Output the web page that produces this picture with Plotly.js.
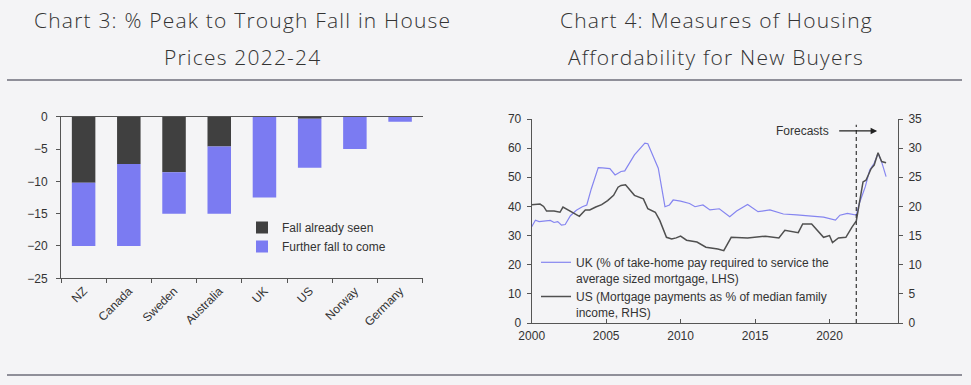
<!DOCTYPE html>
<html>
<head>
<meta charset="utf-8">
<script src="https://cdn.plot.ly/plotly-3.0.1.min.js"></script>
<style>
  html, body { margin: 0; padding: 0; background: #f4f4f6; }
  #chart { width: 971px; height: 385px; }
</style>
</head>
<body>
<div id="chart"></div>
<script>
// ---------- Chart 3 data ----------
const countries = ['NZ', 'Canada', 'Sweden', 'Australia', 'UK', 'US', 'Norway', 'Germany'];
const fallAlreadySeen = [-10.2, -7.3, -8.6, -4.6, 0, -0.3, 0, 0];
const furtherFallToCome = [-9.8, -12.7, -6.4, -10.4, -12.5, -7.6, -5.0, -0.8];
const chart3Ticks = [0, -5, -10, -15, -20, -25];

// ---------- Chart 4 data ----------
const ukYears = [2000.0, 2000.25, 2000.5, 2000.75, 2001.0, 2001.25, 2001.5, 2001.75, 2002.0, 2002.25,
  2002.6, 2003.0, 2003.4, 2003.7, 2004.0, 2004.47, 2004.75, 2005.25, 2005.6, 2006.0,
  2006.25, 2006.9, 2007.6, 2007.8, 2008.5, 2008.95, 2009.25, 2009.5, 2010.0, 2010.6,
  2010.97, 2011.5, 2011.97, 2012.6, 2013.3, 2013.76, 2014.5, 2015.2, 2016.0, 2016.9,
  2017.8, 2018.7, 2019.6, 2020.4, 2020.7, 2021.2, 2021.8, 2022.0, 2022.4, 2022.7,
  2023.0, 2023.26, 2023.5, 2023.8];
const ukValues = [33.0, 35.3, 34.8, 35.0, 35.0, 35.2, 34.5, 34.8, 33.6, 33.8,
  36.8, 38.7, 39.9, 40.5, 46.0, 53.3, 53.2, 53.0, 50.8, 52.0,
  52.2, 57.7, 61.7, 61.5, 53.1, 39.9, 40.5, 42.2, 41.8, 41.0,
  39.9, 40.5, 38.8, 39.2, 36.5, 38.4, 40.7, 38.2, 38.8, 37.4,
  37.1, 36.7, 36.3, 35.3, 37.0, 37.6, 37.0, 41.0, 46.7, 52.5,
  54.8, 58.2, 55.3, 50.2];

const usYears = [2000.0, 2000.56, 2000.8, 2001.0, 2001.5, 2001.9, 2002.1, 2002.4, 2002.7, 2003.2,
  2003.6, 2003.9, 2004.3, 2004.7, 2005.1, 2005.5, 2005.8, 2006.0, 2006.3, 2006.9,
  2007.5, 2007.8, 2008.3, 2008.6, 2009.05, 2009.4, 2009.7, 2010.0, 2010.4, 2011.1,
  2011.7, 2012.5, 2012.9, 2013.4, 2014.5, 2015.7, 2016.6, 2017.0, 2017.9, 2018.2,
  2018.8, 2019.6, 2020.0, 2020.2, 2020.6, 2021.1, 2021.5, 2021.8, 2022.25, 2022.45,
  2022.8, 2023.0, 2023.26, 2023.5, 2023.8];
const usValues = [20.3, 20.4, 20.0, 19.2, 19.2, 19.0, 19.9, 19.5, 19.0, 18.3,
  19.4, 19.4, 19.9, 20.3, 21.0, 21.9, 23.3, 23.6, 23.7, 21.9,
  21.3, 19.6, 19.0, 17.6, 14.7, 14.4, 14.6, 14.9, 14.2, 13.9,
  13.0, 12.7, 12.4, 14.7, 14.6, 14.9, 14.6, 15.9, 15.5, 17.0,
  17.0, 14.7, 15.0, 13.8, 14.6, 14.7, 16.4, 17.5, 24.2, 24.5,
  26.5, 27.1, 29.2, 27.7, 27.5];

const forecastStart = 2021.8;
const forecastArrowFrom = 2020.55;
const forecastArrowTo = 2023.2;
const forecastLevel = 65.9;
const forecastLineTop = 68;

const titles3 = ['Chart 3: % Peak to Trough Fall in House', 'Prices 2022-24'];
const titles4 = ['Chart 4: Measures of Housing', 'Affordability for New Buyers'];

// ---------- styling ----------
const W = 971, H = 385;
const BG = '#f4f4f6';
const AX = '#555555';
const TXT = '#333333';
const FONT = 'Liberation Sans, Arial, sans-serif';
const px = v => v / W;
const py = v => 1 - v / H;
const spaced = t => '<span style="letter-spacing:1.2px">' + t + '</span>';

const traces = [
  {
    type: 'bar', name: 'Fall already seen', x: countries, y: fallAlreadySeen,
    xaxis: 'x', yaxis: 'y', marker: { color: '#404040', line: { width: 0 } },
    legend: 'legend'
  },
  {
    type: 'bar', name: 'Further fall to come', x: countries, y: furtherFallToCome,
    xaxis: 'x', yaxis: 'y', marker: { color: '#7b7bf2', line: { width: 0 } },
    legend: 'legend'
  },
  {
    type: 'scatter', mode: 'lines',
    name: 'UK (% of take-home pay required to service the<br>average sized mortgage, LHS)',
    x: ukYears, y: ukValues, xaxis: 'x3', yaxis: 'y3',
    line: { color: '#8585f0', width: 1.2 }, legend: 'legend2'
  },
  {
    type: 'scatter', mode: 'lines',
    name: 'US (Mortgage payments as % of median family<br>income, RHS)',
    x: usYears, y: usValues, xaxis: 'x3', yaxis: 'y4',
    line: { color: '#505050', width: 1.5 }, legend: 'legend2'
  }
];

const tickFont = { family: FONT, size: 12, color: TXT };
const titleFont = { family: 'Open Sans, sans-serif', size: 21, color: TXT, weight: 300 };

const layout = {
  width: W, height: H,
  margin: { l: 0, r: 0, t: 0, b: 0 },
  paper_bgcolor: BG, plot_bgcolor: BG,
  font: { family: FONT, size: 12, color: TXT },
  barmode: 'relative',
  bargap: 0.48,
  showlegend: true,
  // chart 3 axes
  xaxis: {
    domain: [px(61), px(422.7)], anchor: 'y', type: 'category',
    range: [-0.5, 7.5], showline: true, linecolor: AX, linewidth: 1, mirror: true,
    ticks: 'outside', tickson: 'boundaries', ticklen: 4, tickcolor: AX,
    tickangle: -45, tickfont: tickFont, showgrid: false, zeroline: false
  },
  yaxis: {
    domain: [py(278.3), py(116.7)], anchor: 'x', range: [-25, 0],
    tickvals: chart3Ticks, showline: true, linecolor: AX, linewidth: 1,
    ticks: 'outside', ticklen: 4, tickcolor: AX, tickfont: tickFont,
    showgrid: false, zeroline: false, ticklabelstandoff: 6
  },
  yaxis2: {
    anchor: 'x', overlaying: 'y', side: 'right', range: [-25, 0],
    tickvals: chart3Ticks, showline: true, linecolor: AX, linewidth: 1,
    ticks: 'outside', ticklen: 4, tickcolor: AX, tickfont: tickFont,
    showgrid: false, zeroline: false, ticklabelstandoff: 4
  },
  // chart 4 axes
  xaxis3: {
    domain: [px(531.7), px(898)], anchor: 'y3', range: [2000, 2024.6],
    tick0: 2000, dtick: 5, showline: true, linecolor: AX, linewidth: 1,
    ticks: 'inside', ticklen: 4, tickcolor: AX, tickfont: tickFont,
    showgrid: false, zeroline: false, ticklabelstandoff: 2
  },
  yaxis3: {
    domain: [py(323), py(119)], anchor: 'x3', range: [0, 70], dtick: 10,
    showline: true, linecolor: AX, linewidth: 1,
    ticks: 'outside', ticklen: 4, tickcolor: AX, tickfont: tickFont,
    showgrid: false, zeroline: false, ticklabelstandoff: 3
  },
  yaxis4: {
    anchor: 'x3', overlaying: 'y3', side: 'right', range: [0, 35], dtick: 5,
    showline: true, linecolor: AX, linewidth: 1,
    ticks: 'outside', ticklen: 4, tickcolor: AX, tickfont: tickFont,
    showgrid: false, zeroline: false, ticklabelstandoff: 3
  },
  legend: {
    x: px(242), y: py(213), xanchor: 'left', yanchor: 'top',
    bgcolor: 'rgba(0,0,0,0)', font: { family: FONT, size: 12, color: TXT },
    traceorder: 'normal', tracegroupgap: 0
  },
  legend2: {
    x: px(536), y: py(248), xanchor: 'left', yanchor: 'top',
    bgcolor: 'rgba(0,0,0,0)', font: { family: FONT, size: 12, color: TXT },
    traceorder: 'normal', valign: 'top', tracegroupgap: 0
  },
  shapes: [
    { type: 'line', xref: 'paper', yref: 'paper', x0: px(7), x1: px(962), y0: py(80), y1: py(80),
      line: { color: '#6e6e7a', width: 1.5 } },
    { type: 'line', xref: 'paper', yref: 'paper', x0: px(7), x1: px(962), y0: py(375), y1: py(375),
      line: { color: '#6e6e7a', width: 1.5 } },
    { type: 'line', xref: 'x3', yref: 'y3', x0: forecastStart, x1: forecastStart, y0: 0, y1: forecastLineTop,
      line: { color: '#444444', width: 1.3, dash: '4px,3px' } }
  ],
  annotations: [
    { xref: 'paper', yref: 'paper', x: px(242), y: py(20), text: spaced(titles3[0]), showarrow: false,
      xanchor: 'center', yanchor: 'middle', font: titleFont },
    { xref: 'paper', yref: 'paper', x: px(242), y: py(57), text: spaced(titles3[1]), showarrow: false,
      xanchor: 'center', yanchor: 'middle', font: titleFont },
    { xref: 'paper', yref: 'paper', x: px(716), y: py(20), text: spaced(titles4[0]), showarrow: false,
      xanchor: 'center', yanchor: 'middle', font: titleFont },
    { xref: 'paper', yref: 'paper', x: px(716), y: py(57), text: spaced(titles4[1]), showarrow: false,
      xanchor: 'center', yanchor: 'middle', font: titleFont },
    { xref: 'x3', yref: 'y3', x: forecastArrowFrom - 0.45, y: forecastLevel, text: 'Forecasts', showarrow: false,
      xanchor: 'right', yanchor: 'middle', font: { family: FONT, size: 12, color: TXT } },
    { xref: 'x3', yref: 'y3', x: forecastArrowTo, y: forecastLevel, axref: 'x3', ayref: 'y3',
      ax: forecastArrowFrom, ay: forecastLevel, text: '', showarrow: true,
      arrowhead: 2, arrowsize: 1, arrowwidth: 1.3, arrowcolor: '#222222', standoff: 0, startstandoff: 0 }
  ]
};

Plotly.newPlot('chart', traces, layout, { displayModeBar: false, staticPlot: true });
</script>
</body>
</html>
